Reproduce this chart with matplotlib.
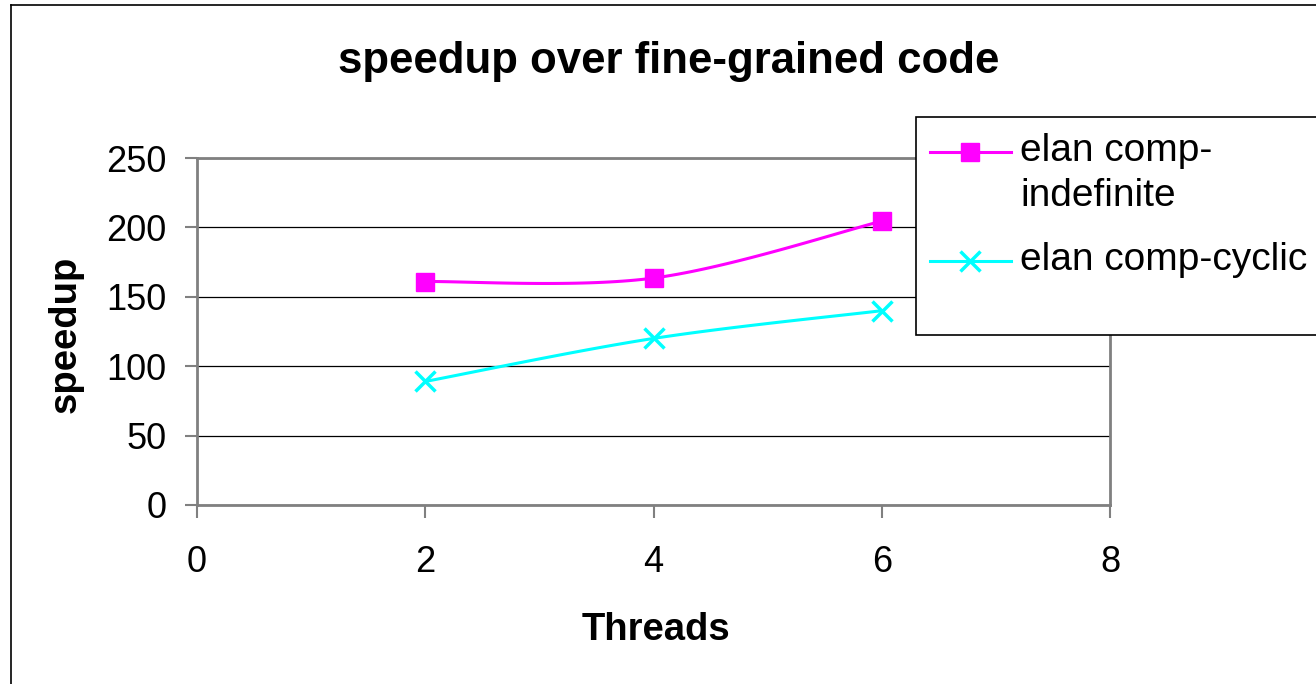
import numpy as np
import matplotlib.pyplot as plt
from matplotlib.lines import Line2D
from matplotlib.patches import Rectangle

plt.rcParams['font.family'] = ['Liberation Sans', 'DejaVu Sans']

threads = [2, 4, 6]
indefinite = [161, 163.5, 204.5]
cyclic = [89, 120, 140]
series_names = [['elan comp-', 'indefinite'], ['elan comp-cyclic']]
colors = ['#FF00FF', '#00FFFF']
markers = ['s', 'x']

W, H = 1316, 684


def smooth(xs, ys, n=40):
    # cardinal spline through the points, like a spreadsheet "smoothed line"
    xs = np.asarray(xs, float)
    ys = np.asarray(ys, float)
    px = np.concatenate([[xs[0]], xs, [xs[-1]]])
    py = np.concatenate([[ys[0]], ys, [ys[-1]]])
    outx, outy = [], []
    t = np.linspace(0, 1, n)
    for i in range(1, len(px) - 2):
        b0 = np.array([px[i], py[i]])
        b3 = np.array([px[i + 1], py[i + 1]])
        b1 = b0 + (np.array([px[i + 1], py[i + 1]]) - np.array([px[i - 1], py[i - 1]])) / 6
        b2 = b3 - (np.array([px[i + 2], py[i + 2]]) - np.array([px[i], py[i]])) / 6
        pts = (np.outer((1 - t) ** 3, b0) + np.outer(3 * (1 - t) ** 2 * t, b1)
               + np.outer(3 * (1 - t) * t ** 2, b2) + np.outer(t ** 3, b3))
        outx.extend(pts[:, 0])
        outy.extend(pts[:, 1])
    return outx, outy


def fx(px):
    return px / W


def fy(py):
    return 1 - py / H


fig = plt.figure(figsize=(W / 100, H / 100), dpi=100)

# chart border (runs off the right and bottom edges)
fig.add_artist(Line2D([fx(11), fx(11)], [0, fy(5)], color='black', lw=1.2))
fig.add_artist(Line2D([fx(11), 1], [fy(5), fy(5)], color='black', lw=1.2))

ax = fig.add_axes([fx(197), fy(505), 913 / W, 347 / H])
ax.set_xlim(0, 8)
ax.set_ylim(0, 250)
ax.set_xticks(range(0, 9, 2))
ax.set_yticks(range(0, 251, 50))
ax.yaxis.grid(True, color='black', lw=0.9)
ax.set_axisbelow(True)
for side in ['left', 'bottom', 'right', 'top']:
    ax.spines[side].set_color('#808080')
    ax.spines[side].set_linewidth(2)
ax.tick_params(axis='both', labelsize=26, color='#808080', width=1.5, length=9)
ax.tick_params(axis='x', pad=20)
ax.tick_params(axis='y', pad=13)

for ys, col, mk in zip([indefinite, cyclic], colors, markers):
    sx, sy = smooth(threads, ys)
    ax.plot(sx, sy, color=col, lw=2.2, clip_on=False)
    if mk == 's':
        ax.plot(threads, ys, linestyle='none', marker=mk, color=col, ms=13, clip_on=False)
    else:
        ax.plot(threads, ys, linestyle='none', marker=mk, color=col, ms=15, mew=2.5,
                clip_on=False)

fig.text(fx(669), fy(62), 'speedup over fine-grained code', ha='center', va='center',
         fontsize=31.5, fontweight='bold')
fig.text(fx(656), fy(630), 'Threads', ha='center', va='center', fontsize=27.5, fontweight='bold')
fig.text(fx(66), fy(334), 'speedup', ha='center', va='center', rotation=90,
         fontsize=27.5, fontweight='bold')

# legend box, keys sit on the first line of each entry
fig.add_artist(Rectangle((fx(916), fy(335)), (W - 916) / W + 0.01, 218 / H,
                         transform=fig.transFigure, facecolor='white', edgecolor='black', lw=1.2))
entry_y = [152, 261]
for names, col, mk, y0 in zip(series_names, colors, markers, entry_y):
    fig.add_artist(Line2D([fx(930), fx(1011)], [fy(y0), fy(y0)], color=col, lw=2.2))
    if mk == 's':
        fig.add_artist(Line2D([fx(970)], [fy(y0)], marker=mk, color=col, ms=13))
    else:
        fig.add_artist(Line2D([fx(970)], [fy(y0)], marker=mk, color=col, ms=15, mew=2.5))
    for k, name in enumerate(names):
        fig.text(fx(1020), fy(y0 - 1 + 45 * k), name, ha='left', va='center', fontsize=28)

fig.savefig('out.png', dpi=100)
